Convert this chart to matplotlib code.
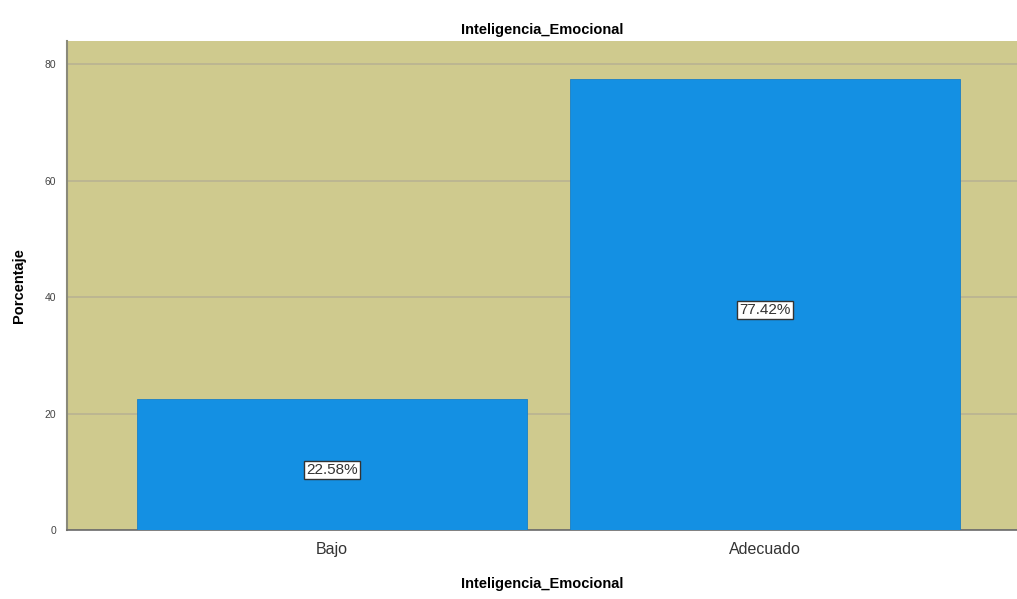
import matplotlib
matplotlib.use("Agg")
import matplotlib.pyplot as plt

plt.rcParams['font.family'] = ['Liberation Sans', 'DejaVu Sans']

categorias = ["Bajo", "Adecuado"]
porcentajes = [22.58, 77.42]
etiquetas = ["22.58%", "77.42%"]

fig = plt.figure(figsize=(10.17, 5.99), dpi=100)
ax = fig.add_axes([0.0659, 0.1152, 0.9341, 0.8164])
ax.set_facecolor("#cfca8e")

pos = list(range(len(categorias)))
ax.bar(pos, porcentajes, width=0.9, color="#1490e3", edgecolor="#1a7fc4", linewidth=0.6, zorder=3)

# etiqueta de porcentaje en el centro de cada barra
for x, v, t in zip(pos, porcentajes, etiquetas):
    ax.annotate(t, (x, v / 2), xytext=(0, -4), textcoords="offset points",
                ha="center", va="center", fontsize=11, color="#333333", zorder=4,
                bbox=dict(boxstyle="square,pad=0.12", facecolor="white", edgecolor="#333333", linewidth=1))

ax.set_xlim(-0.612, 1.582)
ax.set_ylim(0, 84)
ax.set_yticks([0, 20, 40, 60, 80])
ax.set_xticks(pos)
ax.set_xticklabels(categorias, fontsize=11.5, color="#333333")
ax.tick_params(axis="y", labelsize=7.5, labelcolor="#444444", length=0, pad=8)
ax.tick_params(axis="x", length=0, pad=9)
ax.grid(axis="y", color="#b9b392", linewidth=1.2, zorder=1)

for s in ["top", "right"]:
    ax.spines[s].set_visible(False)
ax.spines["left"].set_color("#8a8a7a")
ax.spines["left"].set_linewidth(1.5)
ax.spines["bottom"].set_color("#6a6a6a")
ax.spines["bottom"].set_linewidth(1.2)

ax.set_title("Inteligencia_Emocional", fontsize=10.5, fontweight="bold", pad=5)
ax.set_xlabel("Inteligencia_Emocional", fontsize=10.5, fontweight="bold", labelpad=14)
ax.set_ylabel("Porcentaje", fontsize=10.5, fontweight="bold", labelpad=13)

fig.savefig("out.png", dpi=100)
